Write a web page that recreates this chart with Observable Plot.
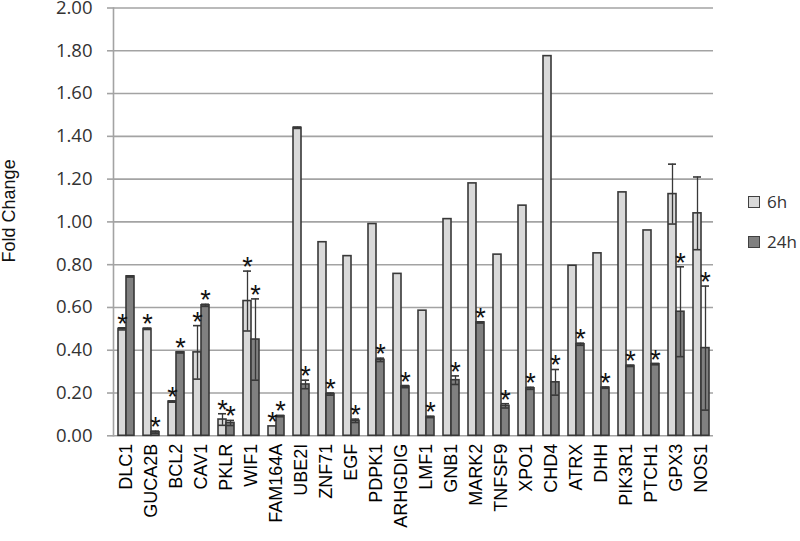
<!DOCTYPE html>
<html><head><meta charset="utf-8">
<script src="https://cdn.jsdelivr.net/npm/d3@7"></script>
<script src="https://cdn.jsdelivr.net/npm/@observablehq/plot@0.6"></script>
<style>
body{margin:0;background:#fff;}
#wrap{position:relative;width:800px;height:541px;overflow:hidden;}
.sw{position:absolute;left:748px;width:10px;height:10px;border:1.5px solid #404040;}
.lt{position:absolute;left:767px;font-family:"Open Sans";font-size:17px;line-height:17px;color:#333;white-space:nowrap;}
</style></head><body>
<div id="wrap"></div>
<script>
const genes = ["DLC1","GUCA2B","BCL2","CAV1","PKLR","WIF1","FAM164A","UBE2I","ZNF71","EGF","PDPK1","ARHGDIG","LMF1","GNB1","MARK2","TNFSF9","XPO1","CHD4","ATRX","DHH","PIK3R1","PTCH1","GPX3","NOS1"];
const v6   = [0.50,0.50,0.16,0.39,0.076,0.63,0.044,1.44,0.905,0.84,0.99,0.757,0.585,1.013,1.18,0.847,1.076,1.775,0.795,0.853,1.138,0.96,1.13,1.04];
const err6 = [0.005,0.003,0.003,0.125,0.027,0.14,0,0.003,0,0,0,0,0,0,0,0,0,0,0,0,0,0,0.14,0.17];
const v24  = [0.745,0.017,0.39,0.61,0.06,0.45,0.092,0.24,0.195,0.07,0.355,0.23,0.088,0.26,0.53,0.14,0.222,0.25,0.428,0.225,0.327,0.335,0.58,0.41];
const err24= [0.003,0.005,0.003,0.005,0.012,0.19,0.003,0.02,0.005,0.008,0.008,0.005,0.003,0.02,0.003,0.01,0.005,0.06,0.005,0.003,0.003,0.003,0.21,0.29];
const star6  = [1,1,1,1,1,1,1,0,0,0,0,0,0,0,0,0,0,0,0,0,0,0,0,0];
const star24 = [0,1,1,1,1,1,1,1,1,1,1,1,1,1,1,1,1,1,1,1,1,1,1,1];
const yTicks = [0,0.2,0.4,0.6,0.8,1.0,1.2,1.4,1.6,1.8,2.0];
const series = ["6h","24h"];
const fills = ["#d9d9d9","#808080"];

const rows = genes.map((g,i)=>({gene:g,v6:v6[i],e6:err6[i],s6:star6[i],v24:v24[i],e24:err24[i],s24:star24[i]}));
const eb6 = rows.filter(d=>d.e6>0), eb24 = rows.filter(d=>d.e24>0);
const st6 = rows.filter(d=>d.s6), st24 = rows.filter(d=>d.s24);
const dark = "#383838";

const chart = Plot.plot({
  width: 800, height: 541,
  marginLeft: 113, marginRight: 87, marginTop: 7.5, marginBottom: 105.7,
  style: {fontFamily: "'Liberation Sans', Arial, sans-serif", background: "#fff"},
  x: {domain: genes, paddingInner: 0.36, paddingOuter: 0.18},
  y: {domain: [0, 2]},
  marks: [
    Plot.ruleY(yTicks, {stroke: "#a3a3a3", strokeWidth: 1.6}),
    Plot.frame({anchor: "left", stroke: "#a3a3a3", strokeWidth: 1.6}),
    Plot.axisY({ticks: yTicks, tickFormat: d3.format(".2f"), tickSize: 6, tickPadding: 15, stroke: "#a3a3a3", strokeWidth: 1.6,
      fontFamily: "'Open Sans'", fontSize: 18.5, fill: "#333", label: null}),
    Plot.axisX({tickSize: 0, tickPadding: 8, tickRotate: -90, fontSize: 18, fill: "#000", label: null}),
    Plot.text(["Fold Change"], {frameAnchor: "left", textAnchor: "middle", rotate: -90, dx: -104, dy: -11, fontSize: 18, fill: "#111"}),
    Plot.barY(rows, {x: "gene", y: "v6", insetRight: 8, fill: fills[0], stroke: dark, strokeWidth: 1.6}),
    Plot.barY(rows, {x: "gene", y: "v24", insetLeft: 8, fill: fills[1], stroke: dark, strokeWidth: 1.6}),
    Plot.ruleX(eb6, {x: "gene", y1: d=>d.v6-d.e6, y2: d=>d.v6+d.e6, dx: -4, stroke: dark, strokeWidth: 1.3}),
    Plot.tickY(eb6, {x: "gene", y: d=>d.v6+d.e6, insetRight: 8, stroke: dark, strokeWidth: 1.6}),
    Plot.tickY(eb6, {x: "gene", y: d=>d.v6-d.e6, insetRight: 8, stroke: dark, strokeWidth: 1.6}),
    Plot.ruleX(eb24, {x: "gene", y1: d=>d.v24-d.e24, y2: d=>d.v24+d.e24, dx: 4, stroke: dark, strokeWidth: 1.3}),
    Plot.tickY(eb24, {x: "gene", y: d=>d.v24+d.e24, insetLeft: 8, stroke: dark, strokeWidth: 1.6}),
    Plot.tickY(eb24, {x: "gene", y: d=>d.v24-d.e24, insetLeft: 8, stroke: dark, strokeWidth: 1.6}),
    Plot.text(st6, {x: "gene", y: d=>d.v6+d.e6, text: ()=>"*", dx: -4, dy: 5, lineAnchor: "bottom", fontSize: 27, fill: "#111"}),
    Plot.text(st24, {x: "gene", y: d=>d.v24+d.e24, text: ()=>"*", dx: 4, dy: 5, lineAnchor: "bottom", fontSize: 27, fill: "#111"})
  ]
});
const wrap = document.getElementById("wrap");
wrap.appendChild(chart);
const tops = [196, 236];
series.forEach((s,i)=>{
  const sw = document.createElement("div"); sw.className = "sw";
  sw.style.top = tops[i] + "px"; sw.style.background = fills[i];
  wrap.appendChild(sw);
  const t = document.createElement("div"); t.className = "lt";
  t.style.top = (tops[i] - 3.5) + "px"; t.textContent = s;
  wrap.appendChild(t);
});
</script>
</body></html>
